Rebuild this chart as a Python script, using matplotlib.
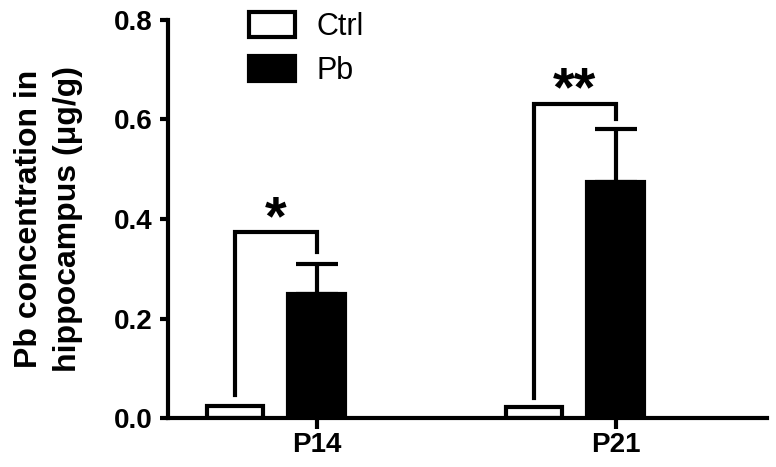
import numpy as np
import matplotlib
matplotlib.use("Agg")
import matplotlib.pyplot as plt
from matplotlib.patches import Patch

plt.rcParams['font.family'] = ['Liberation Sans', 'DejaVu Sans']

# data
groups = ["P14", "P21"]
ctrl_mean = [0.025, 0.022]
ctrl_err = [0.003, 0.003]
pb_mean = [0.25, 0.475]
pb_err = [0.06, 0.105]
stars = ["*", "**"]

fig = plt.figure(figsize=(7.76, 4.67), dpi=100)
ax = fig.add_axes([0.2165, 0.1049, 0.772, 0.8523])

x = np.arange(len(groups))
off = 0.273
w = 0.19
lw = 3.0

ax.bar(x - off, ctrl_mean, width=w, color='white', edgecolor='black', linewidth=lw,
       yerr=ctrl_err, error_kw=dict(ecolor='black', elinewidth=lw, capsize=0, capthick=lw))
ax.bar(x, pb_mean, width=w, color='black', edgecolor='black', linewidth=lw)
ax.errorbar(x, pb_mean, yerr=[np.zeros(2), pb_err], fmt='none', ecolor='black',
            elinewidth=lw, capsize=15, capthick=lw)

# significance brackets
left_bottom = [0.046, 0.04]
right_bottom = [0.333, 0.601]
top = [0.373, 0.631]
for i in range(len(groups)):
    xl = x[i] - off
    xr = x[i]
    ax.plot([xl, xl, xr, xr], [left_bottom[i], top[i], top[i], right_bottom[i]],
            color='black', linewidth=lw, solid_joinstyle='miter')
    ax.text((xl + xr) / 2, top[i] - 0.027, stars[i], ha='center', va='bottom',
            fontsize=40, fontweight='bold')

ax.set_xlim(-0.497, 1.507)
ax.set_ylim(0, 0.8)
ax.set_yticks([0.0, 0.2, 0.4, 0.6, 0.8])
ax.set_yticklabels(["0.0", "0.2", "0.4", "0.6", "0.8"])
ax.set_xticks(x)
ax.set_xticklabels(groups)
for lab in ax.get_xticklabels() + ax.get_yticklabels():
    lab.set_fontweight('bold')
    lab.set_fontsize(20)

ax.spines['top'].set_visible(False)
ax.spines['right'].set_visible(False)
ax.spines['left'].set_linewidth(lw)
ax.spines['bottom'].set_linewidth(lw)
ax.tick_params(axis='y', width=lw, length=6, direction='out', pad=5)
ax.tick_params(axis='x', width=lw, length=8, direction='out', pad=2)

ax.set_ylabel("Pb concentration in\nhippocampus (\u03bcg/g)", fontsize=23,
              fontweight='bold', labelpad=22, linespacing=1.4)

handles = [Patch(facecolor='white', edgecolor='black', linewidth=lw, label='Ctrl'),
           Patch(facecolor='black', edgecolor='black', linewidth=lw, label='Pb')]
ax.legend(handles=handles, loc='upper left', bbox_to_anchor=(0.09, 1.09),
          frameon=False, fontsize=22, handlelength=1.5, handleheight=0.9,
          handletextpad=0.7, labelspacing=0.45)

fig.savefig("out.png", dpi=100)
